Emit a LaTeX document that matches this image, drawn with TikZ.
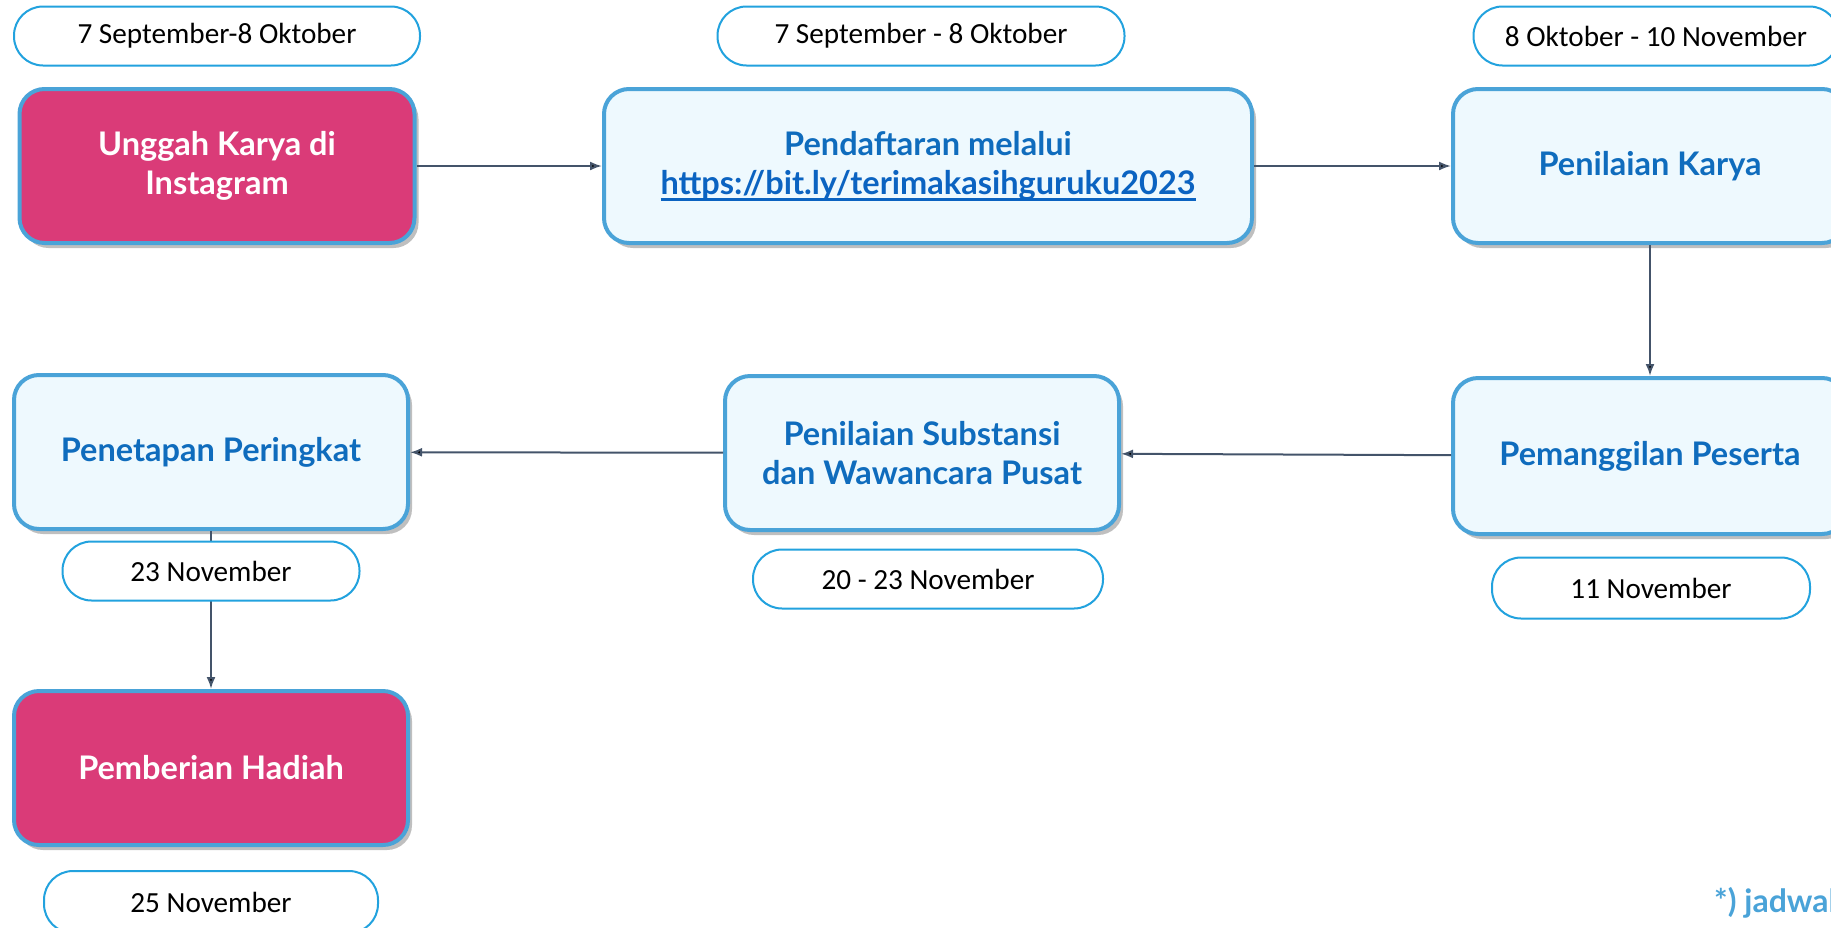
\documentclass[tikz,border=0pt]{standalone}
\usepackage{fontspec}
\setmainfont{Carlito}
\newfontfamily\latofont{Lato}
\usetikzlibrary{arrows.meta,positioning,shadows}
\definecolor{pinkbox}{HTML}{DA3B78}
\definecolor{lightbox}{HTML}{EEF9FE}
\definecolor{boxedge}{HTML}{4AA3D8}
\definecolor{boxtext}{HTML}{0F6CBD}
\definecolor{pilledge}{HTML}{22A2DE}
\definecolor{flowline}{HTML}{44546A}
\definecolor{linkblue}{HTML}{0B63C1}
\newcommand\linkline[1]{\setbox0\hbox{#1}\rlap{\color{linkblue}\rule[-6pt]{\wd0}{2.5pt}}\box0}
\tikzset{
    stepbox/.style = {draw=boxedge, line width=4pt, fill=lightbox, rounded corners=25pt,
        minimum width=394pt, minimum height=154pt, inner sep=0pt, align=center,
        text=boxtext, font=\latofont\bfseries\fontsize{32.5}{39}\selectfont,
        drop shadow={shadow xshift=4pt, shadow yshift=-5pt, opacity=0.25, fill=black}},
    prize/.style = {stepbox, fill=pinkbox, text=white},
    datepill/.style = {draw=pilledge, line width=2pt, fill=white, rounded corners=29pt,
        minimum height=59pt, inner sep=0pt, font=\fontsize{29.2}{34}\selectfont},
    flow/.style = {-{Latex[length=12pt,width=9pt]}, draw=flowline, line width=2pt}
}
\begin{document}
\begin{tikzpicture}[x=1pt,y=-1pt]
    \useasboundingbox (0,0) rectangle (1831,927);
    \clip (0,0) rectangle (1831,927);

    % steps
    \node[prize, minimum width=395pt] (unggah) at (217,166) {Unggah Karya di\\Instagram};
    \node[stepbox, minimum width=648pt] (daftar) at (928,166) {Pendaftaran melalui\\\textcolor{linkblue}{\linkline{https://bit.ly/terimakasihguruku2023}}};
    \node[stepbox] (nilai) at (1650,166) {Penilaian Karya};
    \node[stepbox, minimum height=156pt] (panggil) at (1650,456) {Pemanggilan Peserta};
    \node[stepbox] (substansi) at (922,453) {Penilaian Substansi\\dan Wawancara Pusat};
    \node[stepbox] (peringkat) at (211,452) {Penetapan Peringkat};
    \node[prize] (hadiah) at (211,768) {Pemberian Hadiah};

    \path[flow] (unggah) edge (daftar);
    \path[flow] (daftar) edge (nilai);
    \path[flow] (nilai) edge (panggil);
    \path[flow] (panggil) edge (substansi);
    \path[flow] (substansi) edge (peringkat);
    \path[flow] (peringkat) edge (hadiah);

    % dates
    \node[datepill, minimum width=406pt] (d1) at (217,36) {7 September-8 Oktober};
    \node[datepill, minimum width=407pt] (d2) at (921,36) {7 September - 8 Oktober};
    \node[datepill, minimum width=365pt] (d3) at (1656,36) {8 Oktober - 10 November};
    \node[datepill, minimum width=297pt] (d4) at (211,571) {23 November};
    \node[datepill, minimum width=350pt] (d5) at (928,579) {20 - 23 November};
    \node[datepill, minimum width=318pt, minimum height=61pt] (d6) at (1651,588) {11 November};
    \node[datepill, minimum width=334pt, minimum height=62pt] (d7) at (211,902) {25 November};

    \node[anchor=base west, inner sep=0pt, text=boxedge, font=\latofont\bfseries\fontsize{32}{38}\selectfont] (note) at (1714,912) {*) jadwal};
\end{tikzpicture}
\end{document}
